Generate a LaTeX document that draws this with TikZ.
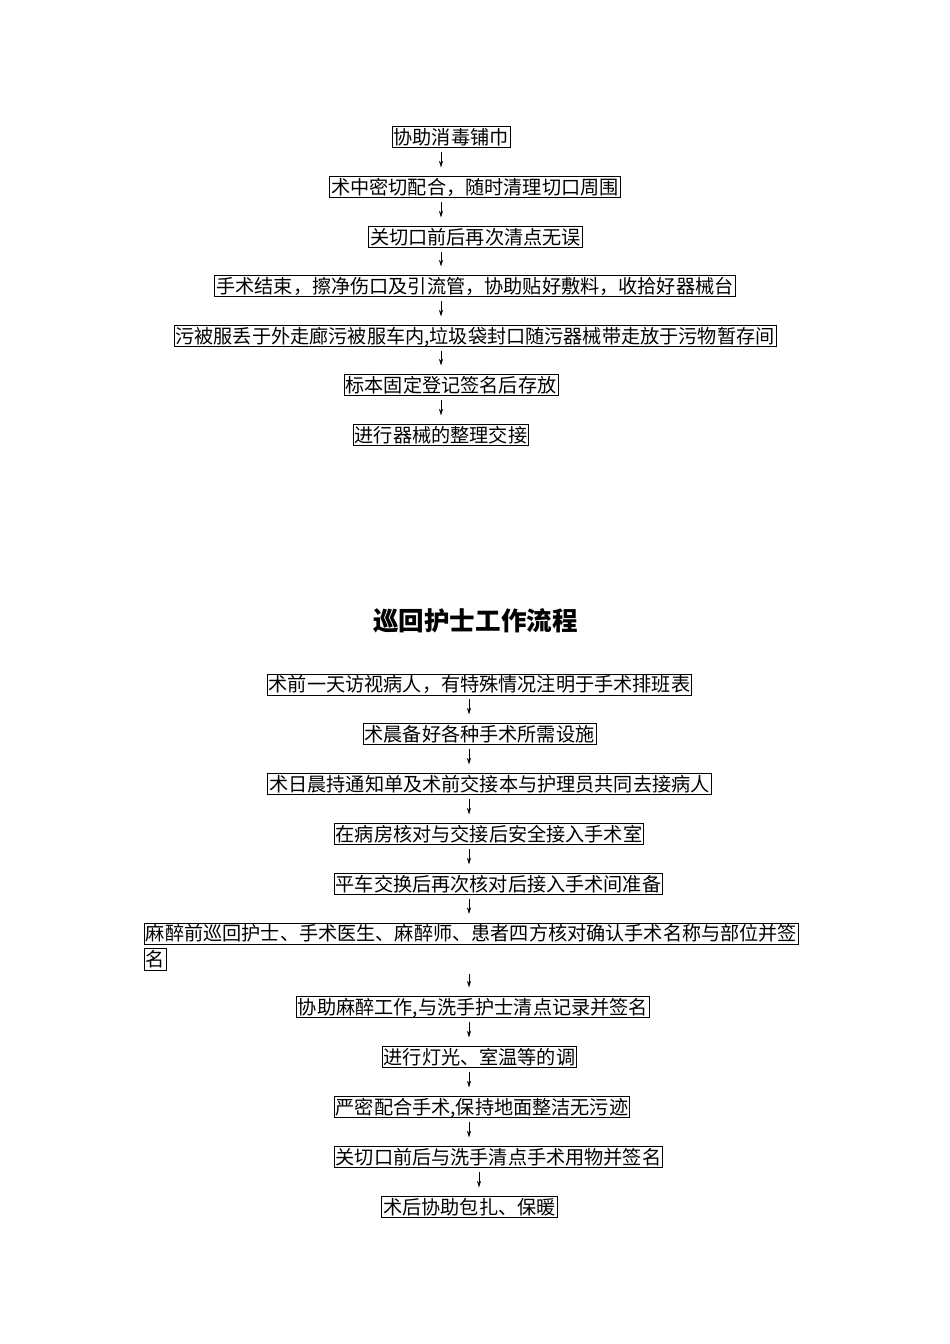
\documentclass[tikz,border=0pt]{standalone}
\usepackage{fontspec}
\setmainfont{Noto Sans CJK SC}
\usetikzlibrary{arrows.meta}

\begin{document}
\begin{tikzpicture}[x=0.6266pt, y=-0.6266pt,
    bx/.style={draw, line width=0.5pt, inner xsep=1pt, inner ysep=0.6pt,
      text height=10.4pt, text depth=1.6pt, font=\fontsize{12pt}{14pt}\selectfont},
    ar/.style={-{Stealth[length=4pt,width=2.6pt]}, line width=0.4pt,
      shorten <=2.5pt, shorten >=5.5pt},]
    \useasboundingbox (0,0) rectangle (950,1344);
    \coordinate (ca) at (441,0);
    \coordinate (cb) at (469,0);
    \coordinate (cc) at (479,0);
    % upper flow
    \node [bx] (a1) at (451,137) {协助消毒铺巾};
    \node [bx] (a2) at (475,187) {术中密切配合，随时清理切口周围};
    \node [bx] (a3) at (475.5,237) {关切口前后再次清点无误};
    \node [bx] (a4) at (475,286) {手术结束，擦净伤口及引流管，协助贴好敷料，收拾好器械台};
    \node [bx] (a5) at (475,336) {污被服丢于外走廊污被服车内,垃圾袋封口随污器械带走放于污物暂存间};
    \node [bx] (a6) at (451,385) {标本固定登记签名后存放};
    \node [bx] (a7) at (441,435) {进行器械的整理交接};
    \foreach \i/\j in {a1/a2,a2/a3,a3/a4,a4/a5,a5/a6,a6/a7}
      \draw [ar] (\i.south -| ca) -- (\j.north -| ca);
    % title
    \node [font=\fontsize{16pt}{18pt}\selectfont\bfseries] (t) at (475.5,621) {巡回护士工作流程};
    % lower flow
    \node [bx] (b1) at (479.5,684.5) {术前一天访视病人，有特殊情况注明于手术排班表};
    \node [bx] (b2) at (479.5,734) {术晨备好各种手术所需设施};
    \node [bx] (b3) at (489.5,784) {术日晨持通知单及术前交接本与护理员共同去接病人};
    \node [bx] (b4) at (489,834) {在病房核对与交接后安全接入手术室};
    \node [bx] (b5) at (498.5,884) {平车交换后再次核对后接入手术间准备};
    \node [bx, anchor=west] (b6) at (144,933.5) {麻醉前巡回护士、手术医生、麻醉师、患者四方核对确认手术名称与部位并签};
    \node [bx, anchor=north west] (b6b) at ([yshift=-2.5pt]b6.south west) {名};
    \node [bx] (b7) at (473,1007) {协助麻醉工作,与洗手护士清点记录并签名};
    \node [bx] (b8) at (479.5,1057) {进行灯光、室温等的调};
    \node [bx] (b9) at (482,1107) {严密配合手术,保持地面整洁无污迹};
    \node [bx] (b10) at (498.5,1157) {关切口前后与洗手清点手术用物并签名};
    \node [bx] (b11) at (469.5,1207) {术后协助包扎、保暖};
    \foreach \i/\j in {b1/b2,b2/b3,b3/b4,b4/b5,b5/b6,b6b/b7,b7/b8,b8/b9,b9/b10}
      \draw [ar] (\i.south -| cb) -- (\j.north -| cb);
    \draw [ar] (b10.south -| cc) -- (b11.north -| cc);
  \end{tikzpicture}
\end{document}
